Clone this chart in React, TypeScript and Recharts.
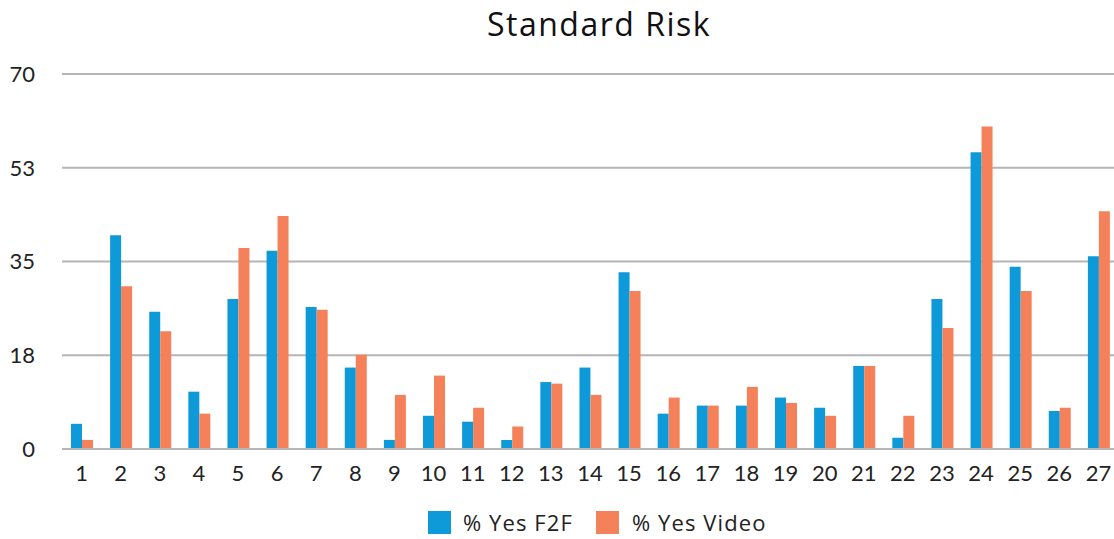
import React from 'react';
import { BarChart, Bar, XAxis, YAxis, CartesianGrid } from 'recharts';

const categories = ['1', '2', '3', '4', '5', '6', '7', '8', '9', '10', '11', '12', '13', '14', '15', '16', '17', '18', '19', '20', '21', '22', '23', '24', '25', '26', '27'];
const yesF2F = [4.7, 39.9, 25.6, 10.7, 28.0, 37.0, 26.5, 15.2, 1.7, 6.2, 5.1, 1.7, 12.5, 15.2, 33.0, 6.6, 8.1, 8.1, 9.6, 7.7, 15.5, 2.1, 28.0, 55.4, 34.0, 7.1, 36.0];
const yesVideo = [1.7, 30.4, 22.0, 6.6, 37.5, 43.5, 26.0, 17.6, 10.1, 13.7, 7.7, 4.2, 12.2, 10.1, 29.5, 9.6, 8.1, 11.6, 8.6, 6.2, 15.5, 6.2, 22.6, 60.2, 29.5, 7.7, 44.4];
const yTicks = [0, 17.5, 35, 52.5, 70];
const yTickLabels = ['0', '18', '35', '53', '70'];

const BLUE = '#0e9ad8';
const ORANGE = '#f4815a';
const GRID = '#b4b4b9';
const FONT = 'Lato, "Open Sans", sans-serif';
const TEXT_FONT = '"Open Sans", Lato, sans-serif';

const data = categories.map((c, i) => ({ name: c, f2f: yesF2F[i], video: yesVideo[i] }));

export default function App() {
  return (
    <div style={{ position: 'absolute', left: 0, top: 0, width: 1114, height: 539, overflow: 'hidden', fontFamily: TEXT_FONT, background: '#fff' }}>
      <div style={{ position: 'absolute', left: 0, width: 1198, top: 2, textAlign: 'center', fontSize: 32, letterSpacing: 1.5, color: '#111' }}>
        Standard Risk
      </div>
      <BarChart
        width={1118}
        height={539}
        data={data}
        margin={{ top: 74, right: 0, left: 0, bottom: 50 }}
        barGap={0}
        barSize={11}
      >
        <CartesianGrid vertical={false} stroke={GRID} strokeWidth={2} />
        <XAxis
          dataKey="name"
          axisLine={{ stroke: GRID, strokeWidth: 2 }}
          tickLine={false}
          tickMargin={10}
          height={40}
          interval={0}
          tick={{ fontSize: 22, fill: '#222', fontFamily: FONT }}
        />
        <YAxis
          domain={[0, 70]}
          ticks={yTicks}
          width={62}
          axisLine={false}
          tickLine={false}
          tickMargin={21}
          tickFormatter={(v: number) => yTickLabels[yTicks.indexOf(v)]}
          tick={{ fontSize: 22, fill: '#222', fontFamily: FONT }}
        />
        <Bar dataKey="f2f" fill={BLUE} isAnimationActive={false} />
        <Bar dataKey="video" fill={ORANGE} isAnimationActive={false} />
      </BarChart>
      <div style={{ position: 'absolute', top: 507, left: 428, display: 'flex', alignItems: 'center', fontSize: 22, letterSpacing: 1.1, color: '#222' }}>
        <span style={{ width: 23, height: 23, background: BLUE, display: 'inline-block', marginRight: 12 }} />
        <span style={{ width: 133 }}>% Yes F2F</span>
        <span style={{ width: 23, height: 23, background: ORANGE, display: 'inline-block', marginRight: 13 }} />
        <span>% Yes Video</span>
      </div>
    </div>
  );
}
